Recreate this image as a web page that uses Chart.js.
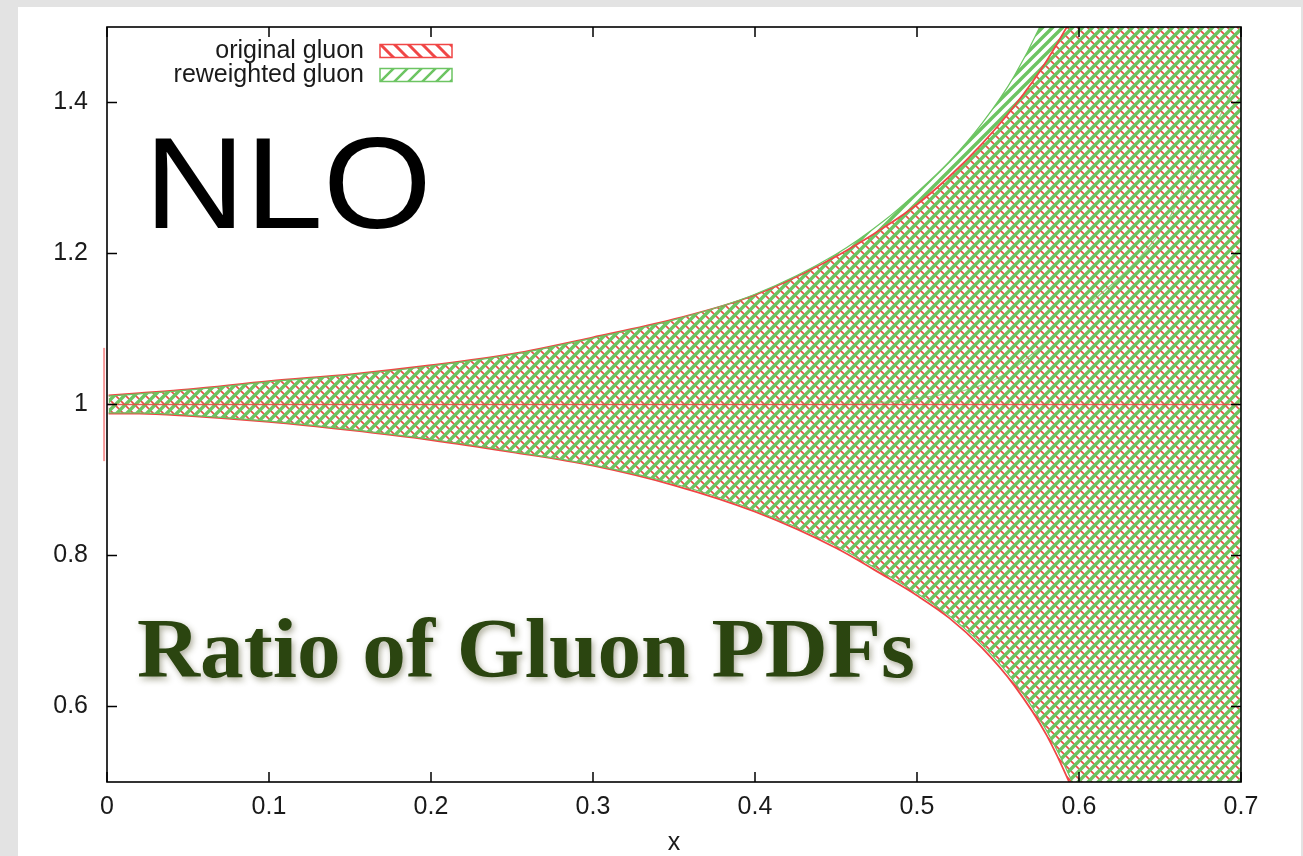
<!DOCTYPE html>
<html><head><meta charset="utf-8">
<script src="https://cdn.jsdelivr.net/npm/chart.js@4.4.0/dist/chart.umd.min.js"></script>
<style>html,body{margin:0;padding:0;background:#e3e3e3;overflow:hidden}canvas{display:block}</style>
</head><body><canvas id="c" width="1303" height="856"></canvas>
<script>
// ---- data ----
const seriesNames = ['original gluon', 'reweighted gluon'];
const bandX =      [0.001, 0.02, 0.05, 0.1, 0.15, 0.2, 0.25, 0.3, 0.35, 0.4, 0.45, 0.48, 0.5, 0.52, 0.54, 0.56, 0.58, 0.6, 0.62, 0.65, 0.7];
const origUpper =  [1.012, 1.015, 1.020, 1.031, 1.040, 1.052, 1.067, 1.089, 1.113, 1.145, 1.196, 1.235, 1.265, 1.302, 1.345, 1.395, 1.455, 1.53, 1.62, 1.78, 2.10];
const origLower =  [0.988, 0.988, 0.985, 0.977, 0.966, 0.953, 0.937, 0.919, 0.893, 0.858, 0.810, 0.773, 0.747, 0.717, 0.678, 0.628, 0.562, 0.47, 0.36, 0.12, -0.30];
const rwUpper =    [1.011, 1.014, 1.019, 1.030, 1.039, 1.051, 1.066, 1.088, 1.112, 1.146, 1.199, 1.244, 1.281, 1.322, 1.372, 1.435, 1.520, 1.63, 1.76, 2.00, 2.60];
const rwLower =    [0.989, 0.989, 0.986, 0.978, 0.967, 0.954, 0.938, 0.920, 0.895, 0.860, 0.813, 0.776, 0.750, 0.720, 0.682, 0.633, 0.568, 0.48, 0.37, 0.13, -0.25];
// thin vertical spike of the original band at the very left edge
const origEdgeX = [-0.0018, -0.0018];
const origEdge  = [0.925, 1.075];
const origCentralX = [0, 0.7];
const origCentral  = [1.0, 1.0];
const rwCentralX = [0, 0.45, 0.5, 0.55, 0.595, 0.652, 0.673, 0.7];
const rwCentral  = [1.0, 1.0, 1.008, 1.035, 1.113, 1.234, 1.32, 1.44];
const xTicks = [0, 0.1, 0.2, 0.3, 0.4, 0.5, 0.6, 0.7];
const xTickLabels = ['0', '0.1', '0.2', '0.3', '0.4', '0.5', '0.6', '0.7'];
const yTicks = [0.6, 0.8, 1.0, 1.2, 1.4];
const yTickLabels = ['0.6', '0.8', '1', '1.2', '1.4'];
const xTitle = 'x';
const bigLabel = 'NLO';
const ratioText = 'Ratio of Gluon PDFs';

// ---- styles ----
const RED = '#f04646';
const GREEN = '#6cc462';
const FONT = '"Liberation Sans", Arial, Helvetica, sans-serif';

function hatch(color, dir, lw, size, bg) {
  const c = document.createElement('canvas'); c.width = c.height = size;
  const g = c.getContext('2d');
  if (bg) { g.fillStyle = bg; g.fillRect(0, 0, size, size); }
  g.strokeStyle = color; g.lineWidth = lw; g.lineCap = 'square';
  g.beginPath();
  for (let k = -1; k <= 1; k++) {
    if (dir > 0) { g.moveTo(k * size, size); g.lineTo(k * size + size, 0); }
    else { g.moveTo(k * size, 0); g.lineTo(k * size + size, size); }
  }
  g.stroke();
  return g.createPattern(c, 'repeat');
}
const redFill = hatch(RED, -1, 1.6, 10);
const greenFill = hatch(GREEN, 1, 3.4, 10);
const redKey = hatch(RED, -1, 3, 14, '#fff');
const greenKey = hatch(GREEN, 1, 2.5, 14, '#fff');

const pts = (xs, ys) => xs.map((x, i) => ({x, y: ys[i]}));
const CLIP = {left: 6, top: 0, right: 0, bottom: 0};
const common = {pointRadius: 0, cubicInterpolationMode: 'monotone', clip: CLIP};

const data = {
  datasets: [
    {...common, label: seriesNames[1], data: pts(bandX, rwUpper), borderColor: GREEN, borderWidth: 1.2, backgroundColor: greenFill, fill: '+1', order: 1},
    {...common, label: '', data: pts(bandX, rwLower), borderColor: GREEN, borderWidth: 1.2, fill: false, order: 1},
    {...common, label: seriesNames[0], data: pts(bandX, origUpper), borderColor: RED, borderWidth: 1.8, backgroundColor: redFill, fill: '+1', order: 2},
    {...common, label: '', data: pts(bandX, origLower), borderColor: RED, borderWidth: 1.8, fill: false, order: 2},
    {...common, label: '', data: pts(origEdgeX, origEdge), borderColor: 'rgba(240,70,70,0.55)', borderWidth: 2, fill: false, order: 0, cubicInterpolationMode: 'default'},
    {...common, label: '', data: pts(origCentralX, origCentral), borderColor: 'rgba(240,70,70,0.85)', borderWidth: 1.5, fill: false, order: 0},
    {...common, label: '', data: pts(rwCentralX, rwCentral), borderColor: 'rgba(108,196,98,0.6)', borderWidth: 1.2, fill: false, order: 0}
  ]
};

const decor = {
  id: 'decor',
  beforeDraw(chart) {
    const ctx = chart.ctx;
    ctx.save();
    ctx.fillStyle = '#e3e3e3'; ctx.fillRect(0, 0, chart.width, chart.height);
    ctx.fillStyle = '#ffffff'; ctx.fillRect(18, 7, 1283, 849);
    ctx.restore();
  },
  afterDraw(chart) {
    const ctx = chart.ctx, a = chart.chartArea;
    const xs = chart.scales.x, ys = chart.scales.y;
    ctx.save();
    // frame
    ctx.strokeStyle = '#000'; ctx.lineWidth = 1.6;
    ctx.strokeRect(a.left, a.top, a.right - a.left, a.bottom - a.top);
    // inward ticks on all sides
    ctx.lineWidth = 1.5;
    ctx.beginPath();
    xTicks.forEach(v => {
      const p = xs.getPixelForValue(v);
      ctx.moveTo(p, a.bottom); ctx.lineTo(p, a.bottom - 10);
      ctx.moveTo(p, a.top); ctx.lineTo(p, a.top + 10);
    });
    yTicks.forEach(v => {
      const p = ys.getPixelForValue(v);
      ctx.moveTo(a.left, p); ctx.lineTo(a.left + 10, p);
      ctx.moveTo(a.right, p); ctx.lineTo(a.right - 10, p);
    });
    ctx.stroke();

    // legend (text right-aligned, key box on the right)
    const keys = [redKey, greenKey], cols = [RED, GREEN];
    ctx.font = '25px ' + FONT;
    ctx.textAlign = 'right'; ctx.textBaseline = 'middle';
    seriesNames.forEach((name, i) => {
      const y = 51 + i * 24;
      ctx.fillStyle = '#1a1a1a';
      ctx.fillText(name, 364, y);
      ctx.fillStyle = keys[i]; ctx.fillRect(380, y - 6.5, 72, 13);
      ctx.strokeStyle = cols[i]; ctx.lineWidth = 1.5; ctx.strokeRect(380, y - 6.5, 72, 13);
    });

    // NLO
    ctx.textAlign = 'left'; ctx.textBaseline = 'alphabetic';
    ctx.fillStyle = '#000';
    ctx.font = '130px ' + FONT;
    const m = ctx.measureText(bigLabel);
    const gw = m.actualBoundingBoxLeft + m.actualBoundingBoxRight;
    ctx.save();
    ctx.translate(155, 228); ctx.scale(270 / gw, 1);
    ctx.fillText(bigLabel, m.actualBoundingBoxLeft, 0);
    ctx.restore();

    // Ratio of Gluon PDFs
    ctx.font = 'bold 84px "Liberation Serif", "Times New Roman", serif';
    const w = ctx.measureText(ratioText).width;
    ctx.translate(137, 677); ctx.scale(778 / w, 1);
    ctx.shadowColor = 'rgba(70,70,30,0.45)'; ctx.shadowBlur = 6; ctx.shadowOffsetX = 2; ctx.shadowOffsetY = 3;
    ctx.fillStyle = '#2b4510';
    ctx.fillText(ratioText, 0, 0);
    ctx.restore();
  }
};

new Chart(document.getElementById('c'), {
  type: 'line',
  data,
  options: {
    responsive: false, animation: false, devicePixelRatio: 1,
    layout: {padding: {left: 0, top: 27, right: 62, bottom: 0}},
    plugins: {legend: {display: false}, tooltip: {enabled: false}, filler: {drawTime: 'beforeDatasetsDraw'}},
    scales: {
      x: {
        type: 'linear', min: 0, max: 0.7,
        afterBuildTicks: s => { s.ticks = xTicks.map(v => ({value: v})); },
        afterFit: s => { s.height = 74; s.paddingLeft = 0; s.paddingRight = 0; },
        grid: {display: false, drawTicks: false}, border: {display: false},
        ticks: {autoSkip: false, maxRotation: 0, padding: 10, color: '#1a1a1a', font: {family: FONT, size: 25},
          callback: (v, i) => xTickLabels[i]},
        title: {display: true, text: xTitle, color: '#1a1a1a', font: {family: FONT, size: 25, lineHeight: 1}, padding: {top: 0, bottom: 0}}
      },
      y: {
        type: 'linear', min: 0.5, max: 1.5,
        afterBuildTicks: s => { s.ticks = yTicks.map(v => ({value: v})); },
        afterFit: s => { s.width = 107; s.paddingTop = 0; s.paddingBottom = 0; },
        grid: {display: false, drawTicks: false}, border: {display: false},
        ticks: {autoSkip: false, padding: 19, color: '#1a1a1a', font: {family: FONT, size: 25},
          callback: (v, i) => yTickLabels[i]}
      }
    }
  },
  plugins: [decor]
});
</script></body></html>
